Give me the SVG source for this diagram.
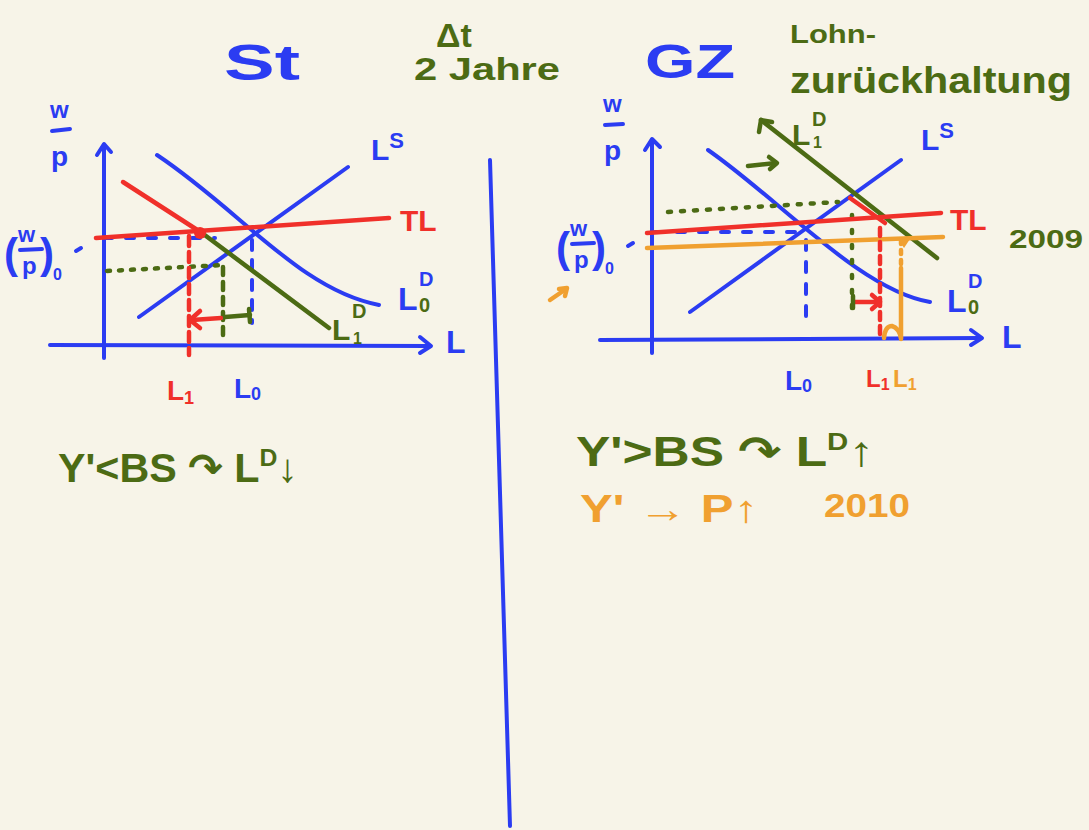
<svg xmlns="http://www.w3.org/2000/svg" width="1089" height="830" viewBox="0 0 1089 830">
<defs>
<style>
.b{stroke:#2b3cf2;fill:none;stroke-width:4;stroke-linecap:round;stroke-linejoin:round}
.r{stroke:#f0302a;fill:none;stroke-width:4.5;stroke-linecap:round;stroke-linejoin:round}
.g{stroke:#4c6b14;fill:none;stroke-width:4.5;stroke-linecap:round;stroke-linejoin:round}
.o{stroke:#f0a030;fill:none;stroke-width:4.5;stroke-linecap:round;stroke-linejoin:round}
.t{font-family:"Liberation Sans","DejaVu Sans",sans-serif;font-weight:bold}
.tb{fill:#2b3cf2}.tr{fill:#f0302a}.tg{fill:#4c6b14}.to{fill:#f0a030}
</style>
</defs>
<rect width="1089" height="830" fill="#f7f4e8"/>

<g id="divider"><path class="b" d="M490,160 L510,826" stroke-width="3"/></g>

<g id="left-chart">
<path class="b" d="M104,358 L104,145"/>
<polyline class="b" points="97,155 104,144 111,152"/>
<path class="b" d="M50,345 L430,346"/>
<polyline class="b" points="420,337 431,346 420,353"/>
<path class="b" d="M139,317 L348,167"/>
<path class="b" d="M157,155 C240,210 300,290 379,305"/>
<path class="b" d="M104,238 L215,238" stroke-dasharray="8 14"/>
<path class="b" d="M252,240 L252,323" stroke-dasharray="10 10" stroke-width="3"/>
<path class="g" d="M107,271 L223,265" stroke-dasharray="3 9" stroke-width="3"/>
<path class="g" d="M223,267 L223,340" stroke-dasharray="8 7" stroke-width="3"/>
<path class="r" d="M96,238 L389,218"/>
<path class="r" d="M189,236 L189,355" stroke-dasharray="10 6" stroke-width="3"/>
<path class="r" d="M123,182 L202,233" stroke-width="8"/>
<path class="g" d="M202,233 L329,328"/>
<circle cx="200" cy="233" r="6" fill="#f0302a"/>
<path class="r" d="M221,318 L192,320" stroke-width="5"/>
<polyline class="r" points="200,311 190,320 200,328" stroke-width="4"/>
<path class="g" d="M250,315 L225,317" stroke-width="5"/>
<path class="g" d="M249,309 L250,322" stroke-width="3"/>
</g>

<g id="left-labels">
<text class="t tb" x="224" y="80" font-size="50" textLength="76" lengthAdjust="spacingAndGlyphs">St</text>
<text class="t tg" x="436" y="47" font-size="34">Δt</text>
<text class="t tg" x="414" y="80" font-size="32" textLength="146" lengthAdjust="spacingAndGlyphs">2 Jahre</text>
<text class="t tb" x="50" y="118" font-size="24">w</text>
<path class="b" d="M52,131 L70,129" stroke-width="3.5"/>
<text class="t tb" x="51" y="166" font-size="28">p</text>
<text class="t tb" x="4" y="268" font-size="42">(</text>
<text class="t tb" x="18" y="242" font-size="22">w</text>
<path class="b" d="M20,250 L42,249" stroke-width="3.5"/>
<text class="t tb" x="22" y="274" font-size="24">p</text>
<text class="t tb" x="40" y="268" font-size="42">)</text>
<text class="t tb" x="53" y="280" font-size="16">0</text>
<path class="b" d="M76,251 L81,248" stroke-width="2"/>
<text class="t tb" x="371" y="160" font-size="30">L<tspan font-size="22" dy="-12">S</tspan></text>
<text class="t tb" x="398" y="310" font-size="32">L</text>
<text class="t tb" x="419" y="286" font-size="20">D</text>
<text class="t tg" x="419" y="312" font-size="20">0</text>
<text class="t tg" x="332" y="340" font-size="30">L</text>
<text class="t tg" x="352" y="318" font-size="20">D</text>
<text class="t tg" x="353" y="344" font-size="16">1</text>
<text class="t tr" x="400" y="231" font-size="30">TL</text>
<text class="t tb" x="446" y="353" font-size="32">L</text>
<text class="t tr" x="167" y="400" font-size="28">L<tspan font-size="18" dy="4">1</tspan></text>
<text class="t tb" x="234" y="398" font-size="28">L<tspan font-size="18" dy="2">0</tspan></text>
</g>

<g id="right-chart">
<path class="b" d="M652,353 L652,140"/>
<polyline class="b" points="645,150 652,139 660,147"/>
<path class="b" d="M600,340 L981,338"/>
<polyline class="b" points="971,330 982,338 971,345"/>
<path class="b" d="M690,312 L901,160"/>
<path class="b" d="M708,150 C780,200 860,290 930,302"/>
<path class="b" d="M655,232 L800,232" stroke-dasharray="8 14"/>
<path class="b" d="M806,240 L806,317" stroke-dasharray="10 12" stroke-width="3"/>
<path class="g" d="M668,212 L838,202" stroke-dasharray="3 10" stroke-width="3"/>
<path class="g" d="M852,215 L852,310" stroke-dasharray="3 12" stroke-width="3.5"/>
<path class="g" d="M761,120 L937,258"/>
<polyline class="g" points="759,132 761,120 772,122" stroke-width="3.5"/>
<path class="g" d="M748,166 L776,163" stroke-width="5"/>
<polyline class="g" points="769,157 777,163 770,169" stroke-width="3.5"/>
<path class="r" d="M647,233 L941,213"/>
<path class="r" d="M850,198 L885,223" stroke-width="8"/>
<path class="o" d="M647,248 L943,237"/>
<path class="r" d="M880,228 L880,337" stroke-dasharray="8 6" stroke-width="2.5"/>
<path class="o" d="M901,240 L901,265" stroke-dasharray="4 6" stroke-width="2.5"/>
<path class="o" d="M901,268 L901,339" stroke-width="3"/>
<path class="o" d="M884,338 Q885,326 892,326 Q899,328 901,338" stroke-width="3"/>
<path d="M898,239 L910,239 L904,248 Z" fill="#f0a030"/>
<path class="r" d="M855,302 L879,302" stroke-width="5"/>
<polyline class="r" points="872,295 880,302 872,309" stroke-width="3.5"/>
<path class="g" d="M853,296 L853,308" stroke-width="3"/>
<path class="o" d="M550,300 L566,289" stroke-width="3.5"/>
<polyline class="o" points="559,289 567,288 565,296" stroke-width="3"/>
</g>

<g id="right-labels">
<text class="t tb" x="645" y="78" font-size="48" textLength="90" lengthAdjust="spacingAndGlyphs">GZ</text>
<text class="t tg" x="790" y="43" font-size="26" textLength="86" lengthAdjust="spacingAndGlyphs">Lohn-</text>
<text class="t tg" x="790" y="93" font-size="36" textLength="282" lengthAdjust="spacingAndGlyphs">zurückhaltung</text>
<text class="t tb" x="603" y="112" font-size="24">w</text>
<path class="b" d="M605,125 L623,124" stroke-width="3.5"/>
<text class="t tb" x="604" y="160" font-size="28">p</text>
<text class="t tb" x="556" y="262" font-size="42">(</text>
<text class="t tb" x="570" y="236" font-size="22">w</text>
<path class="b" d="M572,244 L594,243" stroke-width="3.5"/>
<text class="t tb" x="574" y="268" font-size="24">p</text>
<text class="t tb" x="592" y="262" font-size="42">)</text>
<text class="t tb" x="605" y="274" font-size="16">0</text>
<path class="b" d="M628,246 L633,243" stroke-width="2"/>
<text class="t tg" x="792" y="145" font-size="30">L</text>
<text class="t tg" x="812" y="126" font-size="20">D</text>
<text class="t tg" x="813" y="148" font-size="16">1</text>
<text class="t tb" x="921" y="150" font-size="30">L<tspan font-size="22" dy="-12">S</tspan></text>
<text class="t tb" x="947" y="312" font-size="32">L</text>
<text class="t tb" x="968" y="288" font-size="20">D</text>
<text class="t tg" x="968" y="314" font-size="20">0</text>
<text class="t tr" x="950" y="230" font-size="30">TL</text>
<text class="t tg" x="1009" y="248" font-size="26" textLength="74" lengthAdjust="spacingAndGlyphs">2009</text>
<text class="t tb" x="1002" y="348" font-size="32">L</text>
<text class="t tb" x="785" y="390" font-size="28">L<tspan font-size="18" dy="2">0</tspan></text>
<text class="t tr" x="866" y="387" font-size="24">L<tspan font-size="16" dy="3">1</tspan></text>
<text class="t to" x="893" y="387" font-size="24">L<tspan font-size="16" dy="3">1</tspan></text>
</g>

<g id="notes">
<text class="t tg" x="58" y="482" font-size="40" textLength="240" lengthAdjust="spacingAndGlyphs">Y'&lt;BS ↷ L<tspan font-size="24" dy="-16">D</tspan><tspan dy="16">↓</tspan></text>
<text class="t tg" x="576" y="466" font-size="42" textLength="298" lengthAdjust="spacingAndGlyphs">Y'&gt;BS ↷ L<tspan font-size="24" dy="-16">D</tspan><tspan dy="16">↑</tspan></text>
<text class="t to" x="580" y="522" font-size="38" textLength="178" lengthAdjust="spacingAndGlyphs">Y' → P↑</text>
<text class="t to" x="824" y="517" font-size="34" textLength="86" lengthAdjust="spacingAndGlyphs">2010</text>
</g>
</svg>
